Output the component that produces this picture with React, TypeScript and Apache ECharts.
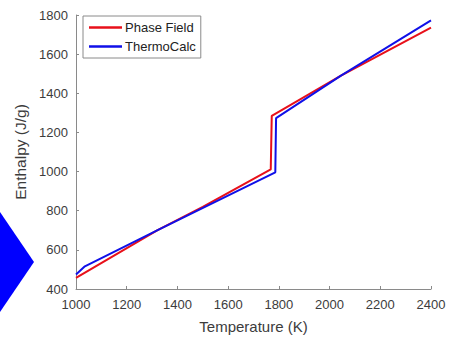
import React, { useEffect, useRef } from "react";
import * as echarts from "echarts";

const seriesNames = ["Phase Field", "ThermoCalc"];
const phaseFieldT = [1000, 1320, 1500, 1768, 1772, 2045, 2400];
const phaseFieldH = [457, 700, 820, 1011, 1285, 1490, 1736];
const thermoCalcT = [1000, 1035, 1320, 1786, 1789, 2045, 2400];
const thermoCalcH = [474, 516, 700, 996, 1273, 1490, 1773];
const xTicks = [1000, 1200, 1400, 1600, 1800, 2000, 2200, 2400];
const yTicks = [400, 600, 800, 1000, 1200, 1400, 1600, 1800];

export default function App() {
  const ref = useRef<HTMLDivElement>(null);
  useEffect(() => {
    if (!ref.current) return;
    const chart = echarts.init(ref.current, null, { renderer: "svg" });
    const font = "Liberation Sans";
    const axisCol = "#8a8a8a";
    const textCol = "#3c3c3c";
    chart.setOption({
      animation: false,
      backgroundColor: "#ffffff",
      textStyle: { fontFamily: font },
      grid: { left: 76, right: 19, top: 15, bottom: 46, containLabel: false },
      legend: {
        data: seriesNames,
        orient: "vertical",
        left: 83,
        top: 16,
        padding: [5, 5, 5, 6],
        icon: "rect",
        itemWidth: 33,
        itemHeight: 2.5,
        itemGap: 6,
        borderColor: "#8a8a8a",
        borderWidth: 1,
        backgroundColor: "#fff",
        textStyle: { fontFamily: font, fontSize: 13, color: "#222", padding: [0, 0, 0, -2] },
      },
      xAxis: {
        type: "value",
        min: xTicks[0],
        max: xTicks[xTicks.length - 1],
        interval: 200,
        name: "Temperature (K)",
        nameLocation: "middle",
        nameGap: 30,
        nameTextStyle: { fontFamily: font, fontSize: 15, color: textCol },
        axisLine: { lineStyle: { color: axisCol, width: 1 } },
        axisTick: { inside: true, length: 3, lineStyle: { color: axisCol } },
        axisLabel: { fontFamily: font, fontSize: 13, color: textCol, margin: 9, formatter: (v: number) => String(v) },
        splitLine: { show: false },
      },
      yAxis: {
        type: "value",
        min: yTicks[0],
        max: yTicks[yTicks.length - 1],
        interval: 200,
        name: "Enthalpy (J/g)",
        nameLocation: "middle",
        nameGap: 33,
        nameTextStyle: { fontFamily: font, fontSize: 15.5, color: textCol },
        axisLine: { show: true, lineStyle: { color: axisCol, width: 1 } },
        axisTick: { show: true, inside: true, length: 3, lineStyle: { color: axisCol } },
        axisLabel: { fontFamily: font, fontSize: 13, color: textCol, margin: 8, formatter: (v: number) => String(v) },
        splitLine: { show: false },
      },
      series: [
        {
          name: seriesNames[0],
          type: "line",
          symbol: "none",
          data: phaseFieldT.map((t, i) => [t, phaseFieldH[i]]),
          lineStyle: { color: "#e8101a", width: 2 },
          itemStyle: { color: "#e8101a" },
          z: 3,
        },
        {
          name: seriesNames[1],
          type: "line",
          symbol: "none",
          data: thermoCalcT.map((t, i) => [t, thermoCalcH[i]]),
          lineStyle: { color: "#1010e8", width: 2 },
          itemStyle: { color: "#1010e8" },
          z: 4,
        },
      ],
      graphic: [
        {
          type: "polygon",
          shape: { points: [[0, 212], [34, 262], [0, 312]] },
          style: { fill: "#0000ff" },
        },
      ],
    });
    return () => chart.dispose();
  }, []);
  return <div ref={ref} style={{ width: 450, height: 339, position: "fixed", left: 0, top: 0 }} />;
}
